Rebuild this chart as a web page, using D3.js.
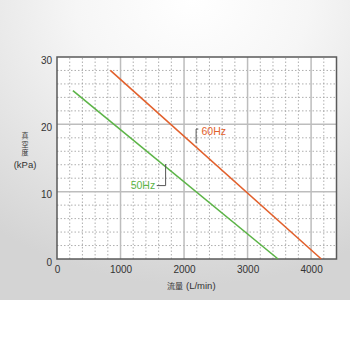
<!DOCTYPE html>
<html>
<head>
<meta charset="utf-8">
<script src="https://d3js.org/d3.v7.min.js"></script>
<style>
  body { margin: 0; background: #fff; }
  text { font-family: Arial, "Liberation Sans", sans-serif; }
  .cjk { font-family: "Noto Sans CJK JP", sans-serif; }
</style>
</head>
<body>
<svg width="350" height="350"></svg>
<script>
// data
var seriesNames = ["60Hz", "50Hz"];
var flow60 = [840, 4160];
var vac60 = [28, 0];
var flow50 = [250, 3480];
var vac50 = [25, 0];
var xTicks = [0, 1000, 2000, 3000, 4000];
var yTicks = [0, 10, 20, 30];
// label anchors (data units)
var label60 = { x: 2275, y: 19.0, leader: [[2225, 19.3], [2190, 19.3], [2190, 17.2]] };
var label50 = { x: 1545, y: 10.9, leader: [[1570, 10.9], [1710, 10.9], [1710, 14.1]] };

var colors = { "60Hz": "#e2602c", "50Hz": "#5cb447" };

var svg = d3.select("svg");
var margin = { left: 57, top: 57, right: 13.5, bottom: 91 };
var W = 350, H = 350;

// background
var defs = svg.append("defs");
var grad = defs.append("radialGradient").attr("id", "bg")
  .attr("cx", "55%").attr("cy", "0%").attr("r", "95%");
grad.append("stop").attr("offset", "0%").attr("stop-color", "#ffffff");
grad.append("stop").attr("offset", "35%").attr("stop-color", "#f6f6f6");
grad.append("stop").attr("offset", "100%").attr("stop-color", "#d4d4d4");
svg.append("rect").attr("width", W).attr("height", 300).attr("fill", "url(#bg)");

var x = d3.scaleLinear().domain([0, 4400]).range([margin.left, W - margin.right]);
var y = d3.scaleLinear().domain([0, 30]).range([H - margin.bottom, margin.top]);

var g = svg.append("g");
g.append("rect")
  .attr("x", x(0)).attr("y", y(30))
  .attr("width", x(4400) - x(0)).attr("height", y(0) - y(30))
  .attr("fill", "#fff");

// minor grid
var xMinor = d3.range(200, 4400, 200).filter(function(d) { return d % 1000 !== 0; });
var yMinor = d3.range(2, 30, 2).filter(function(d) { return d % 10 !== 0; });
g.selectAll(".xminor").data(xMinor).enter().append("line")
  .attr("x1", function(d) { return x(d); }).attr("x2", function(d) { return x(d); })
  .attr("y1", y(0)).attr("y2", y(30))
  .attr("stroke", "#9a9a9a").attr("stroke-width", 0.8).attr("stroke-dasharray", "1.5,2");
g.selectAll(".yminor").data(yMinor).enter().append("line")
  .attr("x1", x(0)).attr("x2", x(4400))
  .attr("y1", function(d) { return y(d); }).attr("y2", function(d) { return y(d); })
  .attr("stroke", "#9a9a9a").attr("stroke-width", 0.8).attr("stroke-dasharray", "1.5,2");

// major grid
g.selectAll(".xmajor").data(xTicks.slice(1)).enter().append("line")
  .attr("x1", function(d) { return x(d); }).attr("x2", function(d) { return x(d); })
  .attr("y1", y(0)).attr("y2", y(30))
  .attr("stroke", "#bdbdbd").attr("stroke-width", 1.5);
g.selectAll(".ymajor").data(yTicks.slice(1, -1)).enter().append("line")
  .attr("x1", x(0)).attr("x2", x(4400))
  .attr("y1", function(d) { return y(d); }).attr("y2", function(d) { return y(d); })
  .attr("stroke", "#bdbdbd").attr("stroke-width", 1.5);

// frame
g.append("rect")
  .attr("x", x(0)).attr("y", y(30))
  .attr("width", x(4400) - x(0)).attr("height", y(0) - y(30))
  .attr("fill", "none").attr("stroke", "#5a5a5a").attr("stroke-width", 1.5);

// axes (labels only)
var xAxis = d3.axisBottom(x).tickValues(xTicks).tickFormat(d3.format("d")).tickSize(0).tickPadding(7);
var yAxis = d3.axisLeft(y).tickValues(yTicks).tickFormat(d3.format("d")).tickSize(0).tickPadding(5);
var gx = svg.append("g").attr("transform", "translate(0," + y(0) + ")").call(xAxis);
var gy = svg.append("g").attr("transform", "translate(" + x(0) + ",0)").call(yAxis);
[gx, gy].forEach(function(a) {
  a.select(".domain").remove();
  a.selectAll("text").attr("font-size", 10).attr("fill", "#333")
    .attr("font-family", "Arial, 'Liberation Sans', sans-serif");
});
gy.selectAll("text").attr("dy", "0.6em");

// series lines
var line = d3.line().x(function(d) { return x(d[0]); }).y(function(d) { return y(d[1]); });
var s60 = d3.zip(flow60, vac60);
var s50 = d3.zip(flow50, vac50);
svg.append("path").datum(s60).attr("d", line)
  .attr("fill", "none").attr("stroke", colors["60Hz"]).attr("stroke-width", 1.6);
svg.append("path").datum(s50).attr("d", line)
  .attr("fill", "none").attr("stroke", colors["50Hz"]).attr("stroke-width", 1.6);

// leaders + labels
[label60, label50].forEach(function(l) {
  svg.append("path").datum(l.leader).attr("d", line)
    .attr("fill", "none").attr("stroke", "#555").attr("stroke-width", 1);
});
svg.append("text").attr("x", x(label60.x)).attr("y", y(label60.y)).attr("dy", "0.35em")
  .attr("font-size", 10.5).attr("fill", colors["60Hz"]).text(seriesNames[0]);
svg.append("text").attr("x", x(label50.x)).attr("y", y(label50.y)).attr("dy", "0.35em")
  .attr("text-anchor", "end")
  .attr("font-size", 10.5).attr("fill", colors["50Hz"]).text(seriesNames[1]);

// axis titles
["真", "空", "度"].forEach(function(c, i) {
  svg.append("text").attr("class", "cjk").attr("x", 25).attr("y", 138 + i * 8.6)
    .attr("text-anchor", "middle").attr("font-size", 7).attr("fill", "#333").text(c);
});
svg.append("text").attr("x", 25).attr("y", 168).attr("text-anchor", "middle")
  .attr("font-size", 9.5).attr("fill", "#333").text("(kPa)");

svg.append("text").attr("class", "cjk").attr("x", 167).attr("y", 289)
  .attr("font-size", 8).attr("fill", "#333").text("流量");
svg.append("text").attr("x", 186).attr("y", 289)
  .attr("font-size", 9.5).attr("fill", "#333").text("(L/min)");
</script>
</body>
</html>
